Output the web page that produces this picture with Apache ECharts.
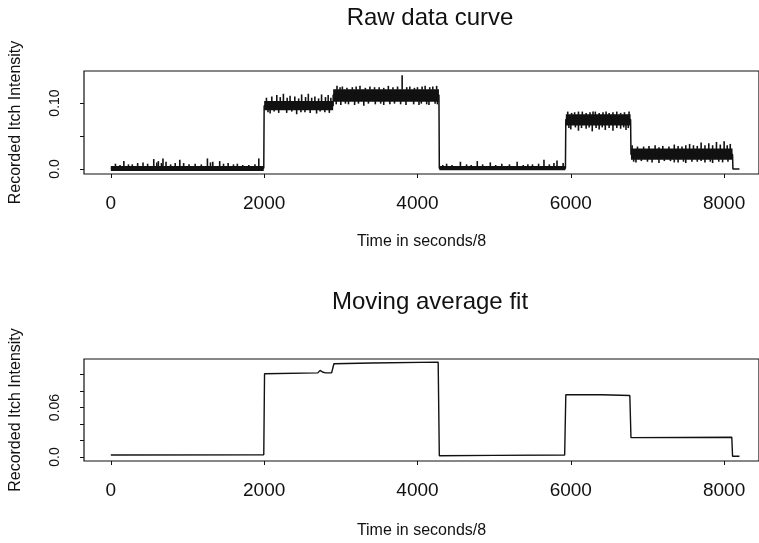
<!DOCTYPE html>
<html>

<head>
    <meta charset="UTF-8">
    <title>Itch intensity</title>
    <script src="https://cdn.jsdelivr.net/npm/echarts@6/dist/echarts.min.js"></script>
    <style>
        html, body {
            margin: 0;
            padding: 0;
            background: #fff;
        }
    </style>
</head>

<body>
    <div id="main" style="width: 759px;height:543px;"></div>
</body>
<script type="text/javascript">

    // raw curve: dense noise band per segment [start, end, low, high]
    var rawBodies = [
        [0, 1995, -0.003, 0.0045],
        [2000, 2900, 0.089, 0.103],
        [2900, 4280, 0.102, 0.121],
        [4285, 5930, -0.002, 0.0045],
        [5935, 6780, 0.066, 0.083],
        [6785, 8110, 0.014, 0.031]
    ];

    // single spikes sticking out of the band [x, from, to]
    var rawSpikes = [
        // 0 - 2000
        [60, 0.004, 0.008], [120, 0.004, 0.006], [170, 0.004, 0.012], [230, 0.004, 0.007],
        [280, 0.004, 0.007], [350, 0.004, 0.009], [420, 0.004, 0.010], [480, 0.004, 0.008],
        [560, 0.004, 0.015], [600, 0.004, 0.010], [620, 0.004, 0.012], [660, 0.004, 0.009],
        [680, 0.004, 0.016], [720, 0.004, 0.011], [780, 0.004, 0.007], [840, 0.004, 0.009],
        [900, 0.004, 0.014], [950, 0.004, 0.009], [1020, 0.004, 0.007], [1100, 0.004, 0.008],
        [1180, 0.004, 0.007], [1260, 0.004, 0.016], [1300, 0.004, 0.010], [1330, 0.004, 0.011],
        [1420, 0.004, 0.012], [1470, 0.004, 0.008], [1530, 0.004, 0.009], [1600, 0.004, 0.007],
        [1650, 0.004, 0.008], [1720, 0.004, 0.006], [1800, 0.004, 0.006], [1880, 0.004, 0.007],
        [1930, 0.004, 0.016],
        // 2000 - 2900
        [2030, 0.102, 0.108], [2100, 0.102, 0.110], [2165, 0.102, 0.112], [2210, 0.102, 0.109],
        [2251, 0.102, 0.114], [2300, 0.102, 0.108], [2338, 0.102, 0.111], [2400, 0.102, 0.110],
        [2450, 0.102, 0.107], [2489, 0.102, 0.113], [2540, 0.102, 0.109], [2576, 0.102, 0.114],
        [2620, 0.102, 0.108], [2662, 0.102, 0.110], [2710, 0.102, 0.107], [2749, 0.102, 0.113],
        [2800, 0.102, 0.109], [2835, 0.102, 0.112], [2870, 0.102, 0.108],
        [2050, 0.090, 0.086], [2078, 0.090, 0.084], [2130, 0.090, 0.087], [2190, 0.090, 0.085],
        [2294, 0.090, 0.085], [2360, 0.090, 0.087], [2424, 0.090, 0.083], [2480, 0.090, 0.086],
        [2532, 0.090, 0.086], [2600, 0.090, 0.085], [2684, 0.090, 0.084], [2730, 0.090, 0.087],
        [2792, 0.090, 0.086], [2850, 0.090, 0.085],
        // 2900 - 4280
        [2950, 0.120, 0.126], [2990, 0.120, 0.124], [3020, 0.120, 0.125], [3080, 0.120, 0.123],
        [3150, 0.120, 0.124], [3200, 0.120, 0.125], [3250, 0.120, 0.126], [3320, 0.120, 0.123],
        [3380, 0.120, 0.125], [3440, 0.120, 0.124], [3500, 0.120, 0.124], [3560, 0.120, 0.123],
        [3620, 0.120, 0.126], [3680, 0.120, 0.124], [3740, 0.120, 0.125], [3800, 0.120, 0.142],
        [3860, 0.120, 0.124], [3900, 0.120, 0.125], [3960, 0.120, 0.123], [4000, 0.120, 0.124],
        [4060, 0.120, 0.125], [4100, 0.120, 0.126], [4160, 0.120, 0.124], [4200, 0.120, 0.125],
        [4250, 0.120, 0.126],
        [2940, 0.103, 0.098], [3000, 0.103, 0.097], [3060, 0.103, 0.099], [3100, 0.103, 0.098],
        [3180, 0.103, 0.097], [3230, 0.103, 0.099], [3300, 0.103, 0.096], [3360, 0.103, 0.099],
        [3450, 0.103, 0.098], [3520, 0.103, 0.099], [3560, 0.103, 0.097], [3640, 0.103, 0.098],
        [3700, 0.103, 0.099], [3780, 0.103, 0.098], [3850, 0.103, 0.097], [3950, 0.103, 0.098],
        [4020, 0.103, 0.097], [4050, 0.103, 0.099], [4120, 0.103, 0.098], [4150, 0.103, 0.097],
        [4230, 0.103, 0.099], [4260, 0.103, 0.098],
        // 4285 - 5930
        [4330, 0.004, 0.006], [4380, 0.004, 0.008], [4450, 0.004, 0.006], [4560, 0.004, 0.011],
        [4640, 0.004, 0.007], [4700, 0.004, 0.006], [4780, 0.004, 0.012], [4850, 0.004, 0.007],
        [4950, 0.004, 0.010], [5020, 0.004, 0.006], [5100, 0.004, 0.008], [5200, 0.004, 0.007],
        [5300, 0.004, 0.011], [5380, 0.004, 0.006], [5440, 0.004, 0.007], [5500, 0.004, 0.007],
        [5580, 0.004, 0.008], [5650, 0.004, 0.014], [5720, 0.004, 0.007], [5780, 0.004, 0.009],
        [5820, 0.004, 0.013], [5900, 0.004, 0.009],
        // 5935 - 6780
        [5960, 0.082, 0.087], [6010, 0.082, 0.085], [6050, 0.082, 0.086], [6100, 0.082, 0.087],
        [6150, 0.082, 0.087], [6200, 0.082, 0.085], [6250, 0.082, 0.086], [6290, 0.082, 0.087],
        [6320, 0.082, 0.087], [6370, 0.082, 0.085], [6420, 0.082, 0.086], [6460, 0.082, 0.087],
        [6500, 0.082, 0.085], [6550, 0.082, 0.086], [6600, 0.082, 0.087], [6650, 0.082, 0.085],
        [6700, 0.082, 0.086], [6760, 0.082, 0.087],
        [5975, 0.067, 0.062], [6000, 0.067, 0.060], [6060, 0.067, 0.063], [6100, 0.067, 0.058],
        [6140, 0.067, 0.062], [6200, 0.067, 0.061], [6240, 0.067, 0.063], [6280, 0.067, 0.057],
        [6330, 0.067, 0.062], [6370, 0.067, 0.060], [6410, 0.067, 0.063], [6450, 0.067, 0.059],
        [6500, 0.067, 0.062], [6550, 0.067, 0.058], [6600, 0.067, 0.062], [6650, 0.067, 0.061],
        [6690, 0.067, 0.063], [6720, 0.067, 0.059], [6750, 0.067, 0.062],
        // 6785 - 8110
        [6800, 0.030, 0.036], [6870, 0.030, 0.034], [6950, 0.030, 0.034], [7020, 0.030, 0.035],
        [7100, 0.030, 0.036], [7150, 0.030, 0.033], [7200, 0.030, 0.035], [7280, 0.030, 0.034],
        [7350, 0.030, 0.037], [7400, 0.030, 0.035], [7450, 0.030, 0.034], [7500, 0.030, 0.036],
        [7550, 0.030, 0.038], [7600, 0.030, 0.036], [7650, 0.030, 0.035], [7700, 0.030, 0.040],
        [7750, 0.030, 0.036], [7800, 0.030, 0.039], [7850, 0.030, 0.036], [7900, 0.030, 0.041],
        [7950, 0.030, 0.037], [8000, 0.030, 0.042], [8040, 0.030, 0.036], [8080, 0.030, 0.038],
        [6820, 0.015, 0.011], [6850, 0.015, 0.010], [6920, 0.015, 0.012], [7000, 0.015, 0.011],
        [7060, 0.015, 0.010], [7150, 0.015, 0.009], [7220, 0.015, 0.012], [7300, 0.015, 0.012],
        [7350, 0.015, 0.010], [7400, 0.015, 0.010], [7470, 0.015, 0.011], [7500, 0.015, 0.009],
        [7580, 0.015, 0.011], [7650, 0.015, 0.011], [7700, 0.015, 0.012], [7750, 0.015, 0.010],
        [7820, 0.015, 0.011], [7850, 0.015, 0.009], [7930, 0.015, 0.011], [7980, 0.015, 0.010],
        [8050, 0.015, 0.011]
    ];

    // level line joining the segments of the raw curve
    var rawLevel = [
        [0, 0.001], [1995, 0.001], [2000, 0.096], [2900, 0.096], [2900, 0.112], [4280, 0.112],
        [4285, 0.001], [5930, 0.001], [5935, 0.075], [6780, 0.075], [6785, 0.022], [8110, 0.022],
        [8115, 0.0], [8200, 0.0]
    ];

    // moving average fit
    var fitLine = [
        [0, 0.0025], [1995, 0.0028], [2005, 0.101], [2700, 0.102], [2730, 0.105], [2760, 0.103],
        [2800, 0.102], [2880, 0.102], [2910, 0.113], [3400, 0.114], [4270, 0.115], [4285, 0.0015],
        [5000, 0.002], [5920, 0.0025], [5935, 0.0755], [6400, 0.0755], [6420, 0.0745],
        [6770, 0.0745], [6785, 0.0235], [8100, 0.024], [8110, 0.001], [8200, 0.001]
    ];

    var xTicks = [0, 2000, 4000, 6000, 8000];
    var rawYTicks = [0, 0.05, 0.1];
    var rawYLabels = [0, 0.1];
    var fitYTicks = [0, 0.02, 0.04, 0.06, 0.08, 0.1];
    var fitYLabels = [0, 0.06];

    var myChart = echarts.init(document.getElementById('main'));
    var font = 'Liberation Sans, Arial, Helvetica, sans-serif';
    var ink = '#111';

    function yFmt(v) {
        return v === 0 ? '0.0' : v.toFixed(2);
    }

    function xAxisOf(idx) {
        return {
            type: 'value',
            gridIndex: idx,
            min: -350,
            max: 8455,
            name: 'Time in seconds/8',
            nameLocation: 'middle',
            nameGap: idx === 0 ? 60 : 62,
            nameTextStyle: { color: ink, fontSize: 16, fontFamily: font },
            axisLine: { show: false, onZero: false },
            axisTick: { show: true, length: 4, customValues: xTicks, lineStyle: { color: ink } },
            axisLabel: {
                customValues: xTicks, margin: 20, color: ink, fontSize: 19, fontFamily: font,
                formatter: function (v) { return String(v); }
            },
            splitLine: { show: false }
        };
    }

    function yAxisOf(idx, min, max, ticks, labels) {
        return {
            type: 'value',
            gridIndex: idx,
            min: min,
            max: max,
            name: 'Recorded Itch Intensity',
            nameLocation: 'middle',
            nameGap: 60,
            nameTextStyle: { color: ink, fontSize: 16, fontFamily: font },
            axisLine: { show: false, onZero: false },
            axisTick: { show: true, length: 4, customValues: ticks, lineStyle: { color: ink } },
            axisLabel: {
                customValues: labels, rotate: 90, margin: 22, color: ink,
                fontSize: 14, fontFamily: font, formatter: yFmt
            },
            splitLine: { show: false }
        };
    }

    option = {
        animation: false,
        backgroundColor: '#fff',
        title: [
            { text: 'Raw data curve', left: 425, top: 1, textAlign: 'center',
              textStyle: { fontSize: 24, fontWeight: 'normal', color: ink, fontFamily: font } },
            { text: 'Moving average fit', left: 425, top: 285, textAlign: 'center',
              textStyle: { fontSize: 24, fontWeight: 'normal', color: ink, fontFamily: font } }
        ],
        grid: [
            { left: 83, right: -2, top: 71, height: 103, show: true, borderColor: ink, borderWidth: 1.2 },
            { left: 83, right: -2, top: 359, height: 102, show: true, borderColor: ink, borderWidth: 1.2 }
        ],
        xAxis: [xAxisOf(0), xAxisOf(1)],
        yAxis: [
            yAxisOf(0, -0.0076, 0.1485, rawYTicks, rawYLabels),
            yAxisOf(1, -0.0048, 0.1188, fitYTicks, fitYLabels)
        ],
        series: [
            {
                type: 'custom',
                xAxisIndex: 0,
                yAxisIndex: 0,
                data: rawBodies,
                renderItem: function (params, api) {
                    var a = api.coord([api.value(0), api.value(3)]);
                    var b = api.coord([api.value(1), api.value(2)]);
                    return {
                        type: 'rect',
                        shape: { x: a[0], y: a[1], width: b[0] - a[0], height: b[1] - a[1] },
                        style: { fill: ink }
                    };
                }
            },
            {
                type: 'custom',
                xAxisIndex: 0,
                yAxisIndex: 0,
                data: rawSpikes,
                renderItem: function (params, api) {
                    var a = api.coord([api.value(0), api.value(1)]);
                    var b = api.coord([api.value(0), api.value(2)]);
                    return {
                        type: 'line',
                        shape: { x1: a[0], y1: a[1], x2: b[0], y2: b[1] },
                        style: { stroke: ink, lineWidth: 1.6 }
                    };
                }
            },
            {
                type: 'line',
                xAxisIndex: 0,
                yAxisIndex: 0,
                data: rawLevel,
                showSymbol: false,
                lineStyle: { color: ink, width: 1.5 }
            },
            {
                type: 'line',
                xAxisIndex: 1,
                yAxisIndex: 1,
                data: fitLine,
                showSymbol: false,
                lineStyle: { color: ink, width: 1.4 }
            }
        ]
    };

    myChart.setOption(option);

</script>

</html>
